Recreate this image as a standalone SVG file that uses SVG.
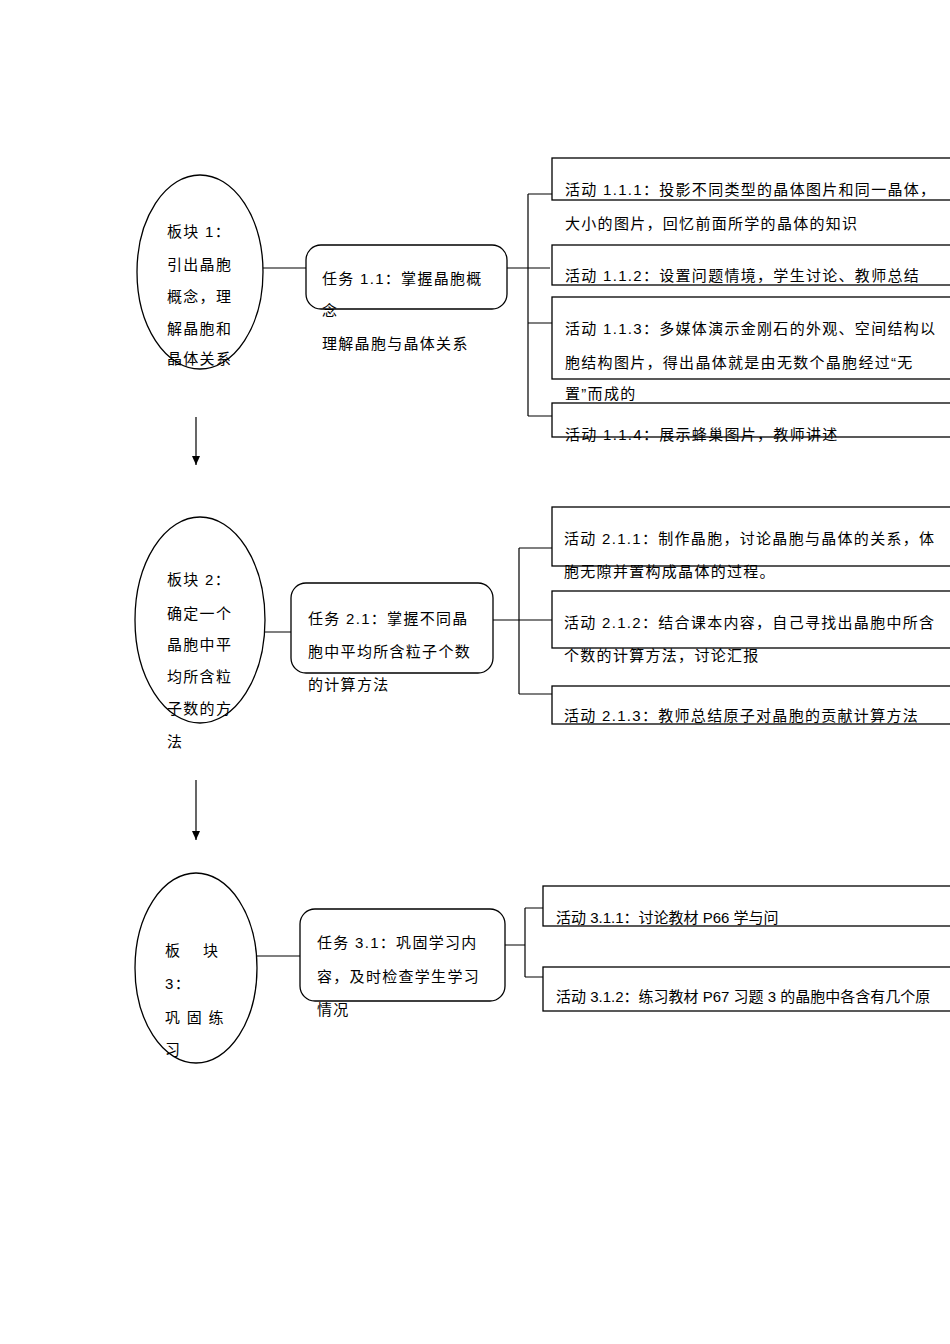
<svg xmlns="http://www.w3.org/2000/svg" width="950" height="1344" viewBox="0 0 950 1344">
<style>
text{font-family:"Liberation Sans","Noto Sans CJK SC",sans-serif;font-size:15px;fill:#000;letter-spacing:1.3px}
.n{fill:#fff;stroke:#000;stroke-width:1.3}
.c{fill:none;stroke:#000;stroke-width:1.2}
</style>
<defs><marker id="a" markerWidth="10" markerHeight="10" refX="9" refY="5" orient="auto" markerUnits="userSpaceOnUse"><path d="M0,1 L9,5 L0,9z" fill="#000"/></marker></defs>
<rect width="950" height="1344" fill="#fff"/>
<g id="connectors">
<path class="c" d="M263,268H306M507,268H528M528,194V416M528,194H552M528,268H550M528,323H553M528,416H553"/>
<path class="c" d="M265,632H291M493,620H519M519,548V694M519,548H552M519,620H552M519,694H552"/>
<path class="c" d="M257,956H300M505,945H525M525,908V977M525,908H543M525,977H548"/>
<line class="c" x1="196" y1="417" x2="196" y2="465" marker-end="url(#a)"/>
<line class="c" x1="196" y1="780" x2="196" y2="840" marker-end="url(#a)"/>
</g>
<g id="block1"><ellipse class="n" cx="200" cy="272" rx="63" ry="97"/>
<text x="167" y="237">板块 1：</text><text x="167" y="270">引出晶胞</text><text x="167" y="302">概念，理</text><text x="167" y="334">解晶胞和</text><text x="167" y="364">晶体关系</text></g>
<g id="task1"><rect class="n" x="306" y="245" width="201" height="64" rx="15"/>
<text x="322" y="284">任务 1.1：掌握晶胞概</text><text x="322" y="316">念</text><text x="322" y="349">理解晶胞与晶体关系</text></g>
<g id="act111"><rect class="n" x="552" y="158" width="410" height="42"/><text x="565" y="195">活动 1.1.1：投影不同类型的晶体图片和同一晶体，</text><text x="565" y="229">大小的图片，回忆前面所学的晶体的知识</text></g>
<g id="act112"><rect class="n" x="552" y="245" width="410" height="40"/><text x="565" y="281">活动 1.1.2：设置问题情境，学生讨论、教师总结</text></g>
<g id="act113"><rect class="n" x="552" y="297" width="410" height="82"/><text x="565" y="334">活动 1.1.3：多媒体演示金刚石的外观、空间结构以</text><text x="565" y="368">胞结构图片，得出晶体就是由无数个晶胞经过“无</text><text x="565" y="399">置”而成的</text></g>
<g id="act114"><rect class="n" x="552" y="403" width="410" height="34"/><text x="565" y="440">活动 1.1.4：展示蜂巢图片，教师讲述</text></g>
<g id="block2"><ellipse class="n" cx="200" cy="620" rx="65" ry="103"/>
<text x="167" y="585">板块 2：</text><text x="167" y="619">确定一个</text><text x="167" y="650">晶胞中平</text><text x="167" y="682">均所含粒</text><text x="167" y="714">子数的方</text><text x="167" y="747">法</text></g>
<g id="task2"><rect class="n" x="291" y="583" width="202" height="90" rx="15"/>
<text x="308" y="624">任务 2.1：掌握不同晶</text><text x="308" y="657">胞中平均所含粒子个数</text><text x="308" y="690">的计算方法</text></g>
<g id="act211"><rect class="n" x="552" y="507" width="410" height="59"/><text x="564" y="544">活动 2.1.1：制作晶胞，讨论晶胞与晶体的关系，体</text><text x="564" y="577">胞无隙并置构成晶体的过程。</text></g>
<g id="act212"><rect class="n" x="552" y="591" width="410" height="57"/><text x="564" y="628">活动 2.1.2：结合课本内容，自己寻找出晶胞中所含</text><text x="564" y="661">个数的计算方法，讨论汇报</text></g>
<g id="act213"><rect class="n" x="552" y="686" width="410" height="38"/><text x="564" y="721">活动 2.1.3：教师总结原子对晶胞的贡献计算方法</text></g>
<g id="block3"><ellipse class="n" cx="196" cy="968" rx="61" ry="95"/>
<text x="165" y="956">板　  块</text><text x="165" y="989">3：</text><text x="165" y="1023">巩 固 练</text><text x="165" y="1055">习</text></g>
<g id="task3"><rect class="n" x="300" y="909" width="205" height="92" rx="15"/>
<text x="317" y="948">任务 3.1：巩固学习内</text><text x="317" y="982">容，及时检查学生学习</text><text x="317" y="1015">情况</text></g>
<g id="act311"><rect class="n" x="543" y="886" width="420" height="40"/><text x="556" y="923" style="letter-spacing:0">活动 3.1.1：讨论教材 P66 学与问</text></g>
<g id="act312"><rect class="n" x="543" y="967" width="420" height="44"/><text x="556" y="1002" style="letter-spacing:0">活动 3.1.2：练习教材 P67 习题 3 的晶胞中各含有几个原</text></g>
</svg>
